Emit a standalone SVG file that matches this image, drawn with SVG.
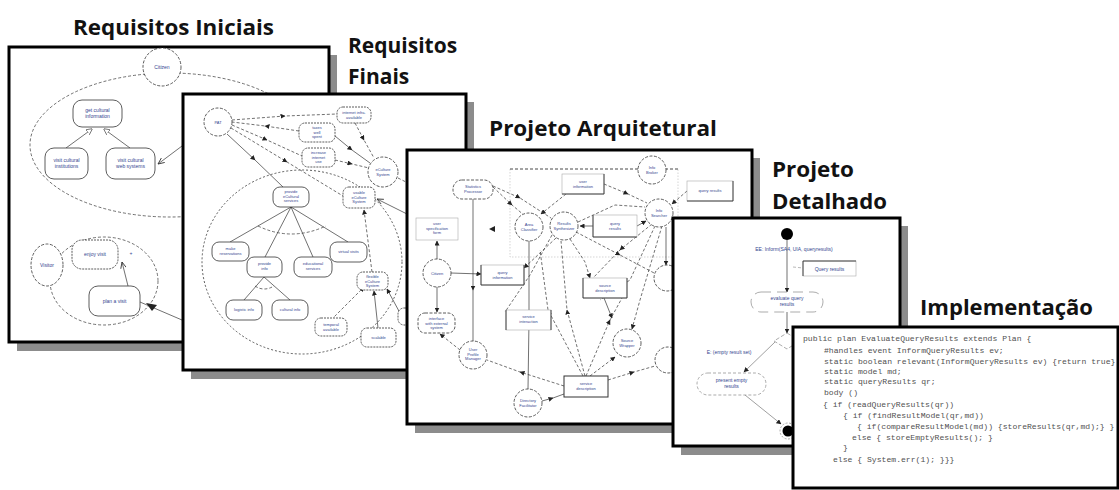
<svg xmlns="http://www.w3.org/2000/svg" width="1119" height="490" viewBox="0 0 1119 490">
<style>
.shadow{fill:#8c8c8c}
.frame{fill:#fff;stroke:#000;stroke-width:3}
.title{font-family:"Open Sans",Lato,"Liberation Sans",sans-serif;font-weight:bold;font-size:21px;fill:#121212}
.n{fill:#fff;stroke:#333;stroke-width:0.8}
.nd{fill:#fff;stroke:#333;stroke-width:0.8;stroke-dasharray:3 1.5}
.cl{fill:#fff;stroke:#333;stroke-width:0.8;stroke-dasharray:2 1}
.bx{fill:#fff;stroke:#aaa;stroke-width:0.6}
.bxs{fill:none;stroke:#333;stroke-width:0.9}
.l{fill:none;stroke:#333;stroke-width:0.7}
.d{stroke-dasharray:3 2}
.dt{fill:none;stroke:#333;stroke-width:0.8;stroke-dasharray:2 2}
.gl{fill:none;stroke:#bbb;stroke-width:0.6;stroke-dasharray:1.5 1.5}
.t{font-family:"Liberation Sans",Arial,sans-serif;font-size:4px;fill:#34458f;text-anchor:middle}
.t5{font-family:"Liberation Sans",Arial,sans-serif;font-size:5px;fill:#34458f;text-anchor:middle}
.code{font-family:"Liberation Mono","Courier New",monospace;font-size:8.1px;fill:#505050}
</style>
<defs>
<marker id="a" viewBox="0 0 10 10" refX="9" refY="5" markerWidth="5" markerHeight="5" markerUnits="userSpaceOnUse" orient="auto"><path d="M0,0 L10,5 L0,10 z" fill="#222"/></marker>
<marker id="o" viewBox="0 0 10 10" refX="9" refY="5" markerWidth="7" markerHeight="7" markerUnits="userSpaceOnUse" orient="auto"><path d="M0,1 L9,5 L0,9" fill="none" stroke="#333" stroke-width="1.2"/></marker>
<marker id="h" viewBox="0 0 10 10" refX="9" refY="5" markerWidth="6" markerHeight="6" markerUnits="userSpaceOnUse" orient="auto"><path d="M0,0 L10,5 L0,10 z" fill="#fff" stroke="#333" stroke-width="1"/></marker>
</defs>

<!-- Page 1 : Requisitos Iniciais -->
<g id="page-requisitos-iniciais">
<text class="title" x="73" y="35" textLength="201" lengthAdjust="spacingAndGlyphs">Requisitos Iniciais</text>
<rect class="shadow" x="17" y="55" width="320" height="296"/>
<rect class="frame" x="9" y="47" width="320" height="295"/>
<g id="p1-connectors">
<ellipse class="l d" cx="170" cy="145" rx="140" ry="72"/>
<path class="l" d="M66,148 L92,129" marker-end="url(#h)"/>
<path class="l" d="M130,148 L104,129" marker-end="url(#h)"/>
<path class="l" d="M182,146 L158,164" marker-end="url(#o)"/>
<ellipse class="l d" cx="104" cy="281" rx="54" ry="44"/>
<path class="l" d="M128,286 L122,262" marker-end="url(#o)"/>
<path class="l" d="M140,302 L182,320"/>
<polygon points="146,303 157,305 152,311" fill="#222"/>
</g>
<g id="p1-citizen"><circle class="nd" cx="162" cy="67" r="19"/><text class="t5" x="162" y="69">Citizen</text></g>
<g id="p1-get-info"><rect class="n" x="73" y="100" width="49" height="27" rx="9"/><text class="t5" x="97.5" y="112">get cultural<tspan x="97.5" dy="5.5">information</tspan></text></g>
<g id="p1-visit-inst"><rect class="n" x="45" y="148" width="43" height="31" rx="9"/><text class="t5" x="66.5" y="162">visit cultural<tspan x="66.5" dy="5.5">institutions</tspan></text></g>
<g id="p1-visit-web"><rect class="n" x="106" y="148" width="49" height="31" rx="9"/><text class="t5" x="130.5" y="162">visit cultural<tspan x="130.5" dy="5.5">web systems</tspan></text></g>
<g id="p1-visitor"><ellipse class="nd" cx="47" cy="265" rx="16" ry="21"/><text class="t5" x="47" y="267">Visitor</text></g>
<g id="p1-enjoy"><rect class="cl" x="72" y="240" width="46" height="29" rx="10"/><text class="t5" x="95" y="256">enjoy visit</text></g>
<g id="p1-plan"><rect class="n" x="89" y="286" width="51" height="30" rx="9"/><text class="t5" x="114.5" y="303">plan a visit</text></g>
<text class="t5" x="131" y="255">+</text>
</g>

<!-- Page 2 : Requisitos Finais -->
<g id="page-requisitos-finais">
<text class="title" x="348" y="53">Requisitos</text>
<text class="title" x="348" y="84">Finais</text>
<rect class="shadow" x="191" y="102" width="283" height="277"/>
<rect class="frame" x="183" y="94" width="283" height="276"/>
<g id="p2-connectors">
<ellipse class="dt" cx="302" cy="262" rx="100" ry="92"/>
<path class="l d" d="M232,120 L285,116 L337,114" marker-mid="url(#a)"/>
<path class="l d" d="M299,131 L265,126 L232,122" marker-mid="url(#a)"/>
<path class="l d" d="M232,125 L267,140 L302,156" marker-mid="url(#a)"/>
<path class="l d" d="M231,128 L287,162 L343,196" marker-mid="url(#a)"/>
<path class="l" d="M227,134 L255,160 L283,187" marker-mid="url(#a)"/>
<path class="l d" d="M355,123 L364,140 L374,158" marker-mid="url(#a)"/>
<path class="l" d="M335,136 L352,150 L370,163" marker-mid="url(#a)"/>
<path class="l d" d="M335,160 L352,164 L369,168" marker-mid="url(#a)"/>
<path class="l d" d="M398,178 L408,183"/>
<path class="l" d="M407,214 L377,199" marker-end="url(#o)"/>
<path class="l" d="M291,207 L230,242 M291,207 L265,257 M291,207 L313,257 M291,207 L348,242"/>
<path class="l d" d="M258,226 Q291,242 326,226"/>
<path class="l" d="M264,277 L244,300 M264,277 L290,300"/>
<path class="l d" d="M255,286 Q264,292 274,286"/>
<path class="l d" d="M331,320 L364,287" marker-end="url(#a)"/>
<path class="l" d="M378,328 L374,291" marker-end="url(#a)"/>
<path class="l" d="M400,313 L387,289" marker-end="url(#a)"/>
<path class="l d" d="M372,272 L364,210" marker-end="url(#a)"/>
</g>
<g id="p2-pat"><circle class="nd" cx="218" cy="122" r="14"/><text class="t" x="218" y="124">PAT</text></g>
<g id="p2-internet"><rect class="cl" x="337" y="107" width="34" height="16" rx="6"/><text class="t" x="354" y="114">internet infra.<tspan x="354" dy="4.5">available</tspan></text></g>
<g id="p2-taxes"><rect class="cl" x="299" y="123" width="36" height="19" rx="6"/><text class="t" x="317" y="129">taxes</text><text class="t" x="317" y="133.5">well</text><text class="t" x="317" y="138">spent</text></g>
<g id="p2-increase"><rect class="cl" x="302" y="148" width="33" height="19" rx="6"/><text class="t" x="318.5" y="154">increase</text><text class="t" x="318.5" y="158.5">internet</text><text class="t" x="318.5" y="163">use</text></g>
<g id="p2-system"><circle class="nd" cx="383" cy="172" r="15"/><text class="t" x="383" y="171">eCulture</text><text class="t" x="383" y="175.5">System</text></g>
<g id="p2-usable"><rect class="cl" x="343" y="187" width="32" height="21" rx="6"/><text class="t" x="359" y="194">usable</text><text class="t" x="359" y="198.5">eCulture</text><text class="t" x="359" y="203">System</text></g>
<g id="p2-provide"><rect class="n" x="273" y="187" width="36" height="20" rx="7"/><text class="t" x="291" y="193">provide</text><text class="t" x="291" y="197.5">eCultural</text><text class="t" x="291" y="202">services</text></g>
<g id="p2-reserv"><rect class="n" x="212" y="242" width="37" height="19" rx="7"/><text class="t" x="230.5" y="250">make</text><text class="t" x="230.5" y="254.5">reservations</text></g>
<g id="p2-info"><rect class="n" x="247" y="257" width="35" height="20" rx="7"/><text class="t" x="264.5" y="265">provide</text><text class="t" x="264.5" y="269.5">info</text></g>
<g id="p2-educ"><rect class="n" x="294" y="257" width="38" height="20" rx="7"/><text class="t" x="313" y="265">educational</text><text class="t" x="313" y="269.5">services</text></g>
<g id="p2-virtual"><rect class="n" x="330" y="242" width="37" height="20" rx="7"/><text class="t" x="348.5" y="253">virtual visits</text></g>
<g id="p2-logistic"><rect class="n" x="226" y="300" width="36" height="20" rx="7"/><text class="t" x="244" y="311">logistic info</text></g>
<g id="p2-cultural"><rect class="n" x="272" y="300" width="36" height="20" rx="7"/><text class="t" x="290" y="311">cultural info</text></g>
<g id="p2-flexible"><rect class="cl" x="357" y="272" width="31" height="18" rx="6"/><text class="t" x="372.5" y="278">flexible</text><text class="t" x="372.5" y="282.5">eCulture</text><text class="t" x="372.5" y="287">System</text></g>
<g id="p2-temporal"><rect class="cl" x="315" y="318" width="32" height="18" rx="6"/><text class="t" x="331" y="326">temporal</text><text class="t" x="331" y="330.5">available</text></g>
<g id="p2-scalable"><rect class="cl" x="361" y="328" width="35" height="19" rx="6"/><text class="t" x="378.5" y="339">scalable</text></g>
<g id="p2-portable"><rect class="cl" x="398" y="308" width="22" height="17" rx="6"/></g>
</g>

<!-- Page 3 : Projeto Arquitetural -->
<g id="page-projeto-arquitetural">
<text class="title" x="489" y="136" textLength="228" lengthAdjust="spacingAndGlyphs">Projeto Arquitetural</text>
<rect class="shadow" x="415" y="158" width="345" height="275"/>
<rect class="frame" x="407" y="150" width="345" height="274"/>
<g id="p3-connectors">
<path class="gl" d="M510,169 L510,257 L678,257 L678,169"/>
<path class="l d" d="M510,169 L678,169" style="stroke-width:0.9"/>
<path class="l d" d="M566,194 L541,214" marker-end="url(#a)"/>
<path class="l d" d="M604,184 L628,194 L647,203" marker-mid="url(#a)"/>
<path class="l d" d="M493,187 L512,205 L531,221" marker-mid="url(#a)"/>
<path class="l d" d="M493,186 L520,198 L551,218" marker-mid="url(#a)"/>
<path class="l" d="M473,199 L473,290 L473,341" marker-mid="url(#a)"/>
<path class="l" d="M529,241 L529,320 L528,389" marker-mid="url(#a)"/>
<polygon points="489,229 495,226 495,232" fill="#222"/>
<path class="l" d="M593,226 L580,226" marker-end="url(#a)"/>
<path class="l" d="M637,226 L646,221" marker-end="url(#a)"/>
<path class="l d" d="M687,191 L672,204" marker-end="url(#a)"/>
<path class="l d" d="M578,222 L615,205 L645,207"/>
<path class="l d" d="M556,238 L524,268" marker-end="url(#a)"/>
<path class="l d" d="M552,235 L530,275 L505,312"/>
<path class="l d" d="M570,239 L585,262 L590,278" marker-end="url(#a)"/>
<path class="l d" d="M576,232 L620,255 L656,274" marker-mid="url(#a)"/>
<path class="l d" d="M652,224 L620,250 L593,278" marker-mid="url(#a)"/>
<path class="l d" d="M655,226 L630,280 L600,300"/>
<path class="l" d="M666,227 L666,265" marker-end="url(#a)"/>
<path class="l d" d="M662,226 L640,300 L632,329" marker-end="url(#a)"/>
<path class="l d" d="M585,376 L567,310 L561,241" marker-mid="url(#a)"/>
<path class="l d" d="M583,376 L548,310 L540,250" marker-mid="url(#a)"/>
<path class="l d" d="M586,376 L610,320 L622,298" marker-mid="url(#a)"/>
<path class="l d" d="M590,376 L615,357" marker-end="url(#a)"/>
<path class="l d" d="M608,380 L634,372 L655,366" marker-mid="url(#a)"/>
<path class="l" d="M604,298 L612,318" marker-end="url(#a)"/>
<path class="l d" d="M564,386 L520,372 L487,360" marker-mid="url(#a)"/>
<path class="l" d="M542,401 L553,398 L564,394" marker-mid="url(#a)"/>
<path class="l" d="M437,259 L437,241" marker-end="url(#a)"/>
<path class="l" d="M437,287 L437,312" marker-end="url(#a)"/>
<path class="l" d="M451,273 L481,274" marker-end="url(#a)"/>
<path class="l d" d="M460,350 L440,334" marker-end="url(#a)"/>
</g>
<g id="p3-broker"><circle class="nd" cx="652" cy="170" r="14"/><text class="t" x="652" y="169">Info</text><text class="t" x="652" y="173.5">Broker</text></g>
<g id="p3-userinfo"><rect class="bx" x="562" y="174" width="42" height="20"/><path class="bxs" d="M562,194 L604,194 L604,174"/><text class="t" x="583" y="183">user</text><text class="t" x="583" y="187.5">information</text></g>
<g id="p3-queryres-top"><rect class="bx" x="687" y="181" width="46" height="20"/><path class="bxs" d="M687,201 L733,201 L733,181"/><text class="t" x="710" y="192">query results</text></g>
<g id="p3-stat"><rect class="nd" x="453" y="180" width="40" height="19" rx="9"/><text class="t" x="473" y="188">Statistics</text><text class="t" x="473" y="192.5">Processor</text></g>
<g id="p3-area"><circle class="nd" cx="529" cy="227" r="14"/><text class="t" x="529" y="226">Area</text><text class="t" x="529" y="230.5">Classifier</text></g>
<g id="p3-synth"><circle class="nd" cx="564" cy="226" r="14"/><text class="t" x="564" y="225">Results</text><text class="t" x="564" y="229.5">Synthesizer</text></g>
<g id="p3-queryres"><rect class="bx" x="593" y="215" width="44" height="22"/><path class="bxs" d="M593,215 L593,237 L637,237"/><text class="t" x="615" y="225">query</text><text class="t" x="615" y="229.5">results</text></g>
<g id="p3-searcher"><circle class="nd" cx="659" cy="213" r="14"/><text class="t" x="659" y="212">Info</text><text class="t" x="659" y="216.5">Searcher</text></g>
<g id="p3-form"><rect class="bx" x="416" y="218" width="42" height="22"/><text class="t" x="437" y="225">user</text><text class="t" x="437" y="229.5">specification</text><text class="t" x="437" y="234">form</text></g>
<g id="p3-citizen"><circle class="nd" cx="437" cy="273" r="14"/><text class="t" x="437" y="275">Citizen</text></g>
<g id="p3-queryinfo"><rect class="bx" x="481" y="265" width="43" height="20"/><path class="bxs" d="M481,265 L481,285 L524,285 L524,265"/><text class="t" x="502.5" y="274">query</text><text class="t" x="502.5" y="278.5">information</text></g>
<g id="p3-source"><rect class="bx" x="583" y="278" width="44" height="20"/><path class="bxs" d="M583,278 L583,298 L627,298 L627,278"/><text class="t" x="605" y="287">source</text><text class="t" x="605" y="291.5">description</text></g>
<g id="p3-wrapper"><circle class="nd" cx="627" cy="343" r="14"/><text class="t" x="627" y="342">Source</text><text class="t" x="627" y="346.5">Wrapper</text></g>
<g id="p3-missing"><rect class="nd" x="418" y="313" width="37" height="20" rx="7"/><text class="t" x="436.5" y="320">interface</text><text class="t" x="436.5" y="324.5">with external</text><text class="t" x="436.5" y="329">system</text></g>
<g id="p3-profiler"><circle class="nd" cx="473" cy="355" r="14"/><text class="t" x="473" y="351">User</text><text class="t" x="473" y="355.5">Profile</text><text class="t" x="473" y="360">Manager</text></g>
<g id="p3-service"><rect class="bx" x="506" y="310" width="45" height="20"/><path class="bxs" d="M506,330 L506,310 M551,310 L551,330"/><text class="t" x="528.5" y="318">service</text><text class="t" x="528.5" y="322.5">interaction</text></g>
<g id="p3-directory"><circle class="nd" cx="528" cy="403" r="14"/><text class="t" x="528" y="402">Directory</text><text class="t" x="528" y="406.5">Facilitator</text></g>
<g id="p3-servdesc"><rect class="n" x="564" y="376" width="44" height="21" style="stroke-width:1"/><text class="t" x="586" y="385">service</text><text class="t" x="586" y="389.5">description</text></g>
<g id="p3-c1"><circle class="nd" cx="667" cy="278" r="13"/></g>
<g id="p3-c2"><circle class="nd" cx="668" cy="360" r="13"/></g>
</g>

<!-- Page 4 : Projeto Detalhado -->
<g id="page-projeto-detalhado">
<text class="title" x="772" y="177" textLength="82" lengthAdjust="spacingAndGlyphs">Projeto</text>
<text class="title" x="772" y="209" textLength="115" lengthAdjust="spacingAndGlyphs">Detalhado</text>
<rect class="shadow" x="681" y="226" width="227" height="229"/>
<rect class="frame" x="673" y="218" width="227" height="228"/>
<g id="p4-connectors">
<path class="l" d="M787,240 L787,292" marker-end="url(#a)"/>
<path class="l d" d="M793,267 L803,268" style="stroke:#999"/>
<path class="l" d="M787,312 L787,333" marker-end="url(#a)"/>
<path class="l" d="M775,342 L744,372" marker-end="url(#a)" style="stroke:#777"/>
<path class="l" d="M745,395 L781,424" marker-end="url(#a)" style="stroke:#777"/>
</g>
<g id="p4-start"><circle cx="787" cy="234" r="6" fill="#000"/></g>
<text class="t5" x="794" y="251">EE: Inform(SA4, UIA, queryresults)</text>
<g id="p4-queryres"><rect class="bx" x="803" y="261" width="53" height="15"/><path class="bxs" d="M803,276 L803,261 M803,261 L856,261"/><text class="t5" x="829.5" y="270.5">Query results</text></g>
<g id="p4-evaluate"><rect x="751" y="292" width="72" height="20" rx="10" fill="#fff" stroke="#888" stroke-width="0.7" stroke-dasharray="10 6"/><text class="t5" x="787" y="300">evaluate query</text><text class="t5" x="787" y="306">results</text></g>
<g id="p4-branch"><path d="M787,333 L800,341 L787,349 L774,341 z" fill="#fff" stroke="#888" stroke-width="0.7" stroke-dasharray="4 2"/></g>
<text class="t5" x="729" y="354">E: (empty result set)</text>
<g id="p4-present"><rect x="697" y="373" width="69" height="22" rx="11" fill="#fff" stroke="#888" stroke-width="0.7" stroke-dasharray="3 2"/><text class="t5" x="731.5" y="382">present empty</text><text class="t5" x="731.5" y="388">results</text></g>
<g id="p4-end"><circle cx="788" cy="431" r="8" fill="#fff" stroke="#888" stroke-width="0.7" stroke-dasharray="2 1.5"/><circle cx="788" cy="431" r="5.5" fill="#000"/></g>
</g>

<!-- Page 5 : Implementacao -->
<g id="page-implementacao">
<text class="title" x="920" y="315" textLength="173" lengthAdjust="spacingAndGlyphs">Implementação</text>
<rect class="frame" x="793" y="327" width="325" height="161"/>
<text class="code" x="803" y="341">public plan EvaluateQueryResults extends Plan {</text>
<text class="code" x="824" y="353">#handles event InformQueryResults ev;</text>
<text class="code" x="824" y="364">static boolean relevant(InformQueryResults ev) {return true}</text>
<text class="code" x="824" y="374">static model md;</text>
<text class="code" x="824" y="384">static queryResults qr;</text>
<text class="code" x="824" y="395">body ()</text>
<text class="code" x="823" y="407">{ if (readQueryResults(qr))</text>
<text class="code" x="843" y="418">{ if (findResultModel(qr,md))</text>
<text class="code" x="857" y="429">{ if(compareResultModel(md)) {storeResults(qr,md);} }</text>
<text class="code" x="852" y="440">else { storeEmptyResults(); }</text>
<text class="code" x="843" y="450">}</text>
<text class="code" x="833" y="462">else { System.err(1); }}}</text>
</g>
</svg>
